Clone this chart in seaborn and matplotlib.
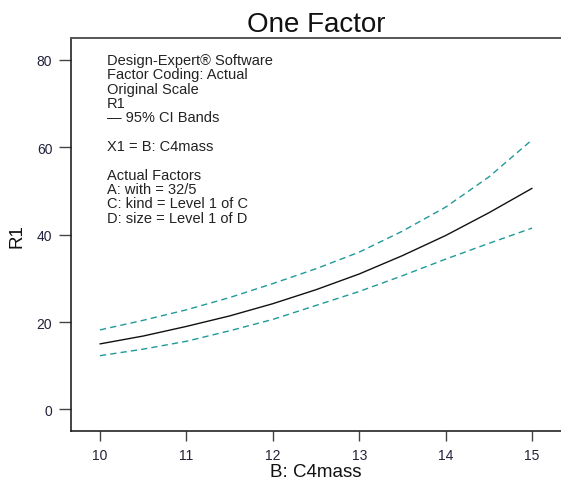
import matplotlib
matplotlib.use("Agg")
import matplotlib.pyplot as plt
import seaborn as sns
import pandas as pd

# B: C4mass grid and model prediction with 95% CI bands
c4mass = [10.0, 10.5, 11.0, 11.5, 12.0, 12.5, 13.0, 13.5, 14.0, 14.5, 15.0]
r1_pred = [15.0, 16.8, 19.0, 21.4, 24.2, 27.4, 31.0, 35.2, 39.8, 45.0, 50.6]
r1_upper = [18.2, 20.4, 22.8, 25.6, 28.8, 32.2, 36.0, 40.8, 46.3, 53.2, 61.7]
r1_lower = [12.3, 13.8, 15.6, 18.0, 20.6, 23.8, 27.0, 30.6, 34.4, 38.0, 41.5]

x_ticks = [10, 11, 12, 13, 14, 15]
y_ticks = [0, 20, 40, 60, 80]

info_lines = [
    "Design-Expert\u00ae Software",
    "Factor Coding: Actual",
    "Original Scale",
    "R1",
    "\u2014 95% CI Bands",
    "",
    "X1 = B: C4mass",
    "",
    "Actual Factors",
    "A: with = 32/5",
    "C: kind = Level 1 of C",
    "D: size = Level 1 of D",
]

sns.set_style("white")
plt.rcParams["font.family"] = ["Liberation Sans", "DejaVu Sans"]

df = pd.DataFrame({"x": c4mass, "pred": r1_pred, "upper": r1_upper, "lower": r1_lower})

fig = plt.figure(figsize=(5.61, 4.81), dpi=100)
ax = fig.add_axes([71 / 561, 48.7 / 481, 490 / 561, 393.3 / 481])

band_color = "#1f9a98"
sns.lineplot(data=df, x="x", y="upper", ax=ax, color=band_color, lw=1.0,
             linestyle=(0, (4.5, 3)))
sns.lineplot(data=df, x="x", y="lower", ax=ax, color=band_color, lw=1.0,
             linestyle=(0, (4.5, 3)))
sns.lineplot(data=df, x="x", y="pred", ax=ax, color="#111111", lw=1.0)

ax.set_xlim(9.665, 15.335)
ax.set_ylim(-5, 85)
ax.set_xticks(x_ticks)
ax.set_yticks(y_ticks)
ax.set_xticklabels([str(t) for t in x_ticks])
ax.set_yticklabels([str(t) for t in y_ticks])

tick_label_color = "#22223a"
ax.tick_params(axis="x", direction="out", length=7.5, width=1.0, color="#444444",
               labelsize=10, labelcolor=tick_label_color, pad=4.5, bottom=True)
ax.tick_params(axis="y", direction="out", length=9, width=1.0, color="#444444",
               labelsize=10, labelcolor=tick_label_color, pad=4.5, left=True)

for side in ("left", "bottom"):
    ax.spines[side].set_color("#111111")
    ax.spines[side].set_linewidth(1.1)
ax.spines["top"].set_color("#555555")
ax.spines["top"].set_linewidth(1.4)
ax.spines["right"].set_visible(False)

ax.set_xlabel("B: C4mass", fontsize=13.5, color="#111111", labelpad=0.5)
ax.set_ylabel("R1", fontsize=13.5, color="#111111", labelpad=8)
ax.set_title("One Factor", fontsize=20, color="#111111", pad=5)

ax.text(36 / 490, 1 - 15 / 393.3, "\n".join(info_lines), transform=ax.transAxes,
        ha="left", va="top", fontsize=10.5, color="#222222", linespacing=1.03)

fig.savefig("out.png", dpi=100)
